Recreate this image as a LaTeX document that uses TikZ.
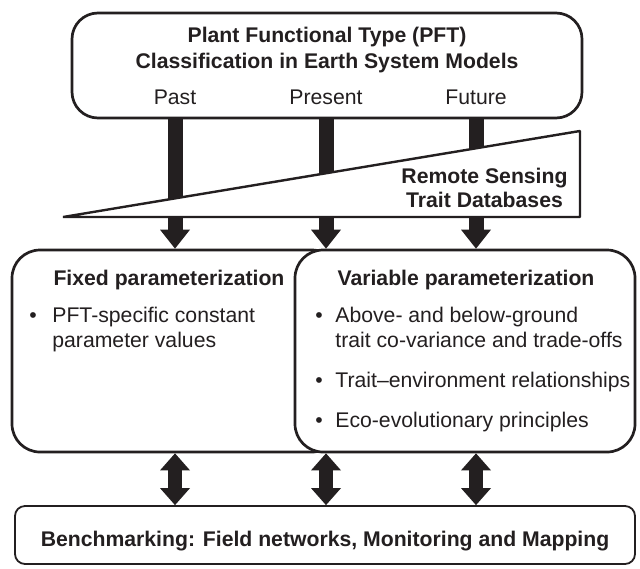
\documentclass[tikz,border=0pt]{standalone}
\usepackage{fontspec}
\setmainfont{Liberation Sans}
\usetikzlibrary{arrows.meta}
\definecolor{ink}{RGB}{35,31,32}
\tikzset{
  roundbox/.style={draw=ink, line width=1.35pt, fill=white, rounded corners=14pt},
  benchbox/.style={draw=ink, line width=0.9pt, fill=white, rounded corners=5pt},
  txt/.style={inner sep=0pt, anchor=base, text=ink, font=\fontsize{10.6}{12}\selectfont},
  hd/.style={txt, font=\fontsize{10.6}{12}\selectfont\bfseries},
  ltxt/.style={txt, anchor=base west},
  flow/.style={draw=ink, line width=7.5pt, -{Triangle[width=15pt,length=9.5pt,line width=0pt]}},
  swap/.style={draw=ink, line width=7pt, {Triangle[width=15pt,length=8.5pt,line width=0pt]}-{Triangle[width=15pt,length=8.5pt,line width=0pt]}}
}
\begin{document}
\begin{tikzpicture}[x=0.5pt,y=-0.5pt]
\useasboundingbox (0,0) rectangle (640,568);
\node[roundbox, rounded corners=13pt, minimum width=255pt, minimum height=52.5pt] (pft) at (327,65.5) {};
\node[roundbox, minimum width=164pt, minimum height=101pt] (fixed) at (176,351) {};
\node[roundbox, minimum width=170pt, minimum height=101pt] (variable) at (465,351) {};
\node[benchbox, minimum width=310pt, minimum height=29pt] (bench) at (325,535) {};
\node[hd] (title1) at (327,42) {Plant Functional Type (PFT)};
\node[hd] (title2) at (327,68) {Classification in Earth System Models};
\node[txt] (past) at (175,104) {Past};
\node[txt] (present) at (326,104) {Present};
\node[txt] (future) at (476,104) {Future};
\draw[flow] (past |- pft.south) -- (past |- fixed.north);
\draw[flow] (present |- pft.south) -- (present |- fixed.north);
\draw[flow] (future |- pft.south) -- (future |- variable.north);
\draw[swap] (past |- fixed.south) -- (past |- bench.north);
\draw[swap] (present |- variable.south) -- (present |- bench.north);
\draw[swap] (future |- variable.south) -- (future |- bench.north);
% data wedge
\coordinate (wtip) at (63,217);
\coordinate (wtop) at (580,131);
\coordinate (wbot) at (580,217);
\draw[ink, line width=1.2pt, fill=white, line join=bevel] (wtip) -- (wtop) -- (wbot) -- cycle;
\node[hd] (remote) at (484.5,183) {Remote Sensing};
\node[hd] (traitdb) at (484.5,207) {Trait Databases};
\node[hd] (fixedhd) at (169,285) {Fixed parameterization};
\node[txt] (fb1) at (33,322) {\textbullet};
\node[ltxt] (f1) at (52,322) {PFT-specific constant};
\node[ltxt] (f1b) at (52,347) {parameter values};
\node[hd] (varhd) at (466,285) {Variable parameterization};
\node[txt] (vb1) at (319,322) {\textbullet};
\node[ltxt] (v1) at (335,322) {Above- and below-ground};
\node[ltxt] (v1b) at (335,347) {trait co-variance and trade-offs};
\node[txt] (vb2) at (319,387) {\textbullet};
\node[ltxt] (v2) at (335,387) {Trait–environment relationships};
\node[txt] (vb3) at (319,427) {\textbullet};
\node[ltxt] (v3) at (335,427) {Eco-evolutionary principles};
\node[hd] (benchtxt) at (325,546) {Benchmarking: Field networks, Monitoring and Mapping};
\end{tikzpicture}
\end{document}
